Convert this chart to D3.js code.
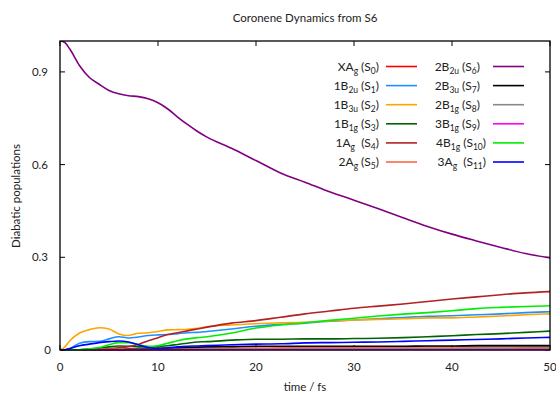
<!DOCTYPE html>
<html><head><meta charset="utf-8">
<script src="https://cdn.jsdelivr.net/npm/d3@7"></script>
<style>body{margin:0;background:#fff}svg{display:block}text{font-family:Lato,"Open Sans",sans-serif;fill:#222}</style>
</head><body><svg id="c" width="556" height="396"></svg>
<script>
const times = [0,0.5,1,2,3,4,5,6,7,8,9,10,11,12,13,14,15,17.5,20,22.5,25,27.5,30,32.5,35,37.5,40,42.5,45,47.5,50];
const S0  = [0,0,0.000,0.000,0.001,0.001,0.001,0.001,0.002,0.002,0.002,0.002,0.002,0.002,0.003,0.003,0.003,0.003,0.003,0.003,0.003,0.003,0.003,0.003,0.003,0.003,0.003,0.003,0.003,0.003,0.003];
const S1  = [0,0,0.004,0.022,0.027,0.028,0.036,0.043,0.039,0.042,0.047,0.049,0.050,0.053,0.056,0.057,0.060,0.068,0.077,0.083,0.087,0.093,0.097,0.101,0.105,0.109,0.111,0.114,0.117,0.121,0.124];
const S2  = [0,0.010,0.030,0.055,0.066,0.072,0.068,0.052,0.047,0.054,0.056,0.060,0.065,0.066,0.067,0.070,0.075,0.081,0.085,0.088,0.090,0.094,0.097,0.099,0.101,0.104,0.104,0.107,0.110,0.114,0.117];
const S3  = [0,0,0.000,0.001,0.003,0.006,0.010,0.013,0.012,0.010,0.010,0.011,0.014,0.018,0.022,0.026,0.027,0.032,0.035,0.035,0.036,0.036,0.037,0.038,0.040,0.043,0.046,0.050,0.053,0.057,0.061];
const S4  = [0,0,0.000,0.000,0.001,0.002,0.004,0.007,0.011,0.018,0.030,0.040,0.050,0.056,0.062,0.068,0.074,0.087,0.095,0.106,0.117,0.126,0.135,0.142,0.149,0.157,0.165,0.172,0.179,0.185,0.189];
const S5  = [0,0,0.000,0.000,0.001,0.001,0.002,0.002,0.003,0.003,0.004,0.004,0.004,0.005,0.005,0.005,0.005,0.006,0.006,0.007,0.007,0.008,0.008,0.009,0.009,0.010,0.010,0.010,0.011,0.011,0.011];
const S6  = [1.000,0.995,0.974,0.920,0.882,0.860,0.840,0.829,0.823,0.820,0.813,0.800,0.780,0.754,0.730,0.708,0.689,0.653,0.613,0.573,0.543,0.512,0.485,0.457,0.428,0.400,0.375,0.353,0.332,0.312,0.298];
const S7  = [0,0,0.000,0.000,0.000,0.000,0.000,0.001,0.002,0.003,0.004,0.005,0.006,0.007,0.008,0.009,0.010,0.011,0.012,0.012,0.012,0.012,0.012,0.012,0.012,0.013,0.013,0.014,0.014,0.014,0.014];
const S8  = [0,0,0.000,0.000,0.000,0.001,0.001,0.001,0.001,0.002,0.002,0.002,0.002,0.002,0.002,0.003,0.003,0.003,0.003,0.003,0.004,0.004,0.004,0.004,0.005,0.005,0.005,0.006,0.006,0.007,0.007];
const S9  = [0,0,0.000,0.000,0.000,0.000,0.000,0.000,0.000,0.000,0.001,0.001,0.001,0.001,0.001,0.001,0.001,0.001,0.001,0.001,0.001,0.001,0.001,0.001,0.001,0.001,0.001,0.001,0.001,0.001,0.001];
const S10 = [0,0,0.000,0.001,0.004,0.008,0.017,0.024,0.024,0.017,0.012,0.014,0.022,0.030,0.036,0.040,0.043,0.055,0.071,0.081,0.088,0.096,0.103,0.110,0.116,0.121,0.127,0.134,0.138,0.141,0.143];
const S11 = [0,0.001,0.005,0.014,0.019,0.024,0.027,0.029,0.026,0.017,0.008,0.005,0.007,0.010,0.012,0.013,0.014,0.017,0.019,0.020,0.023,0.024,0.025,0.026,0.028,0.030,0.032,0.034,0.036,0.039,0.041];
const seriesValues = [S0,S1,S2,S3,S4,S5,S6,S7,S8,S9,S10,S11];
const stateNames = [["XA","g","0"],["1B","2u","1"],["1B","3u","2"],["1B","1g","3"],["1A","g","4"],["2A","g","5"],
                    ["2B","2u","6"],["2B","3u","7"],["2B","1g","8"],["3B","1g","9"],["4B","1g","10"],["3A","g","11"]];
const colors = ["#ff0000","#1e90ff","#ffa500","#006400","#b22222","#ff6347","#800080","#000000","#888888","#ff00ff","#00ee00","#0000ff"];
const xTicks = [0,10,20,30,40,50];
const yTicks = [0,0.3,0.6,0.9];
const titleText = "Coronene Dynamics from S6";
const xLabel = "time / fs", yLabel = "Diabatic populations";

const svg = d3.select("#c");
const L=60,R=550,T=41,B=350;
const x = d3.scaleLinear().domain([0,50]).range([L,R]);
const y = d3.scaleLinear().domain([0,1]).range([B,T]);

const g = svg.append("g");
xTicks.forEach(v=>{
  g.append("line").attr("x1",x(v)).attr("x2",x(v)).attr("y1",B).attr("y2",B-5).attr("stroke","#000");
  g.append("line").attr("x1",x(v)).attr("x2",x(v)).attr("y1",T).attr("y2",T+5).attr("stroke","#000");
  g.append("text").attr("x",x(v)).attr("y",371).attr("text-anchor","middle").attr("font-size",11.5).text(v);
});
yTicks.forEach(v=>{
  g.append("line").attr("x1",L).attr("x2",L+5).attr("y1",y(v)).attr("y2",y(v)).attr("stroke","#000");
  g.append("line").attr("x1",R).attr("x2",R-5).attr("y1",y(v)).attr("y2",y(v)).attr("stroke","#000");
  g.append("text").attr("x",v===0?51:48).attr("y",y(v)+4).attr("text-anchor","end").attr("font-size",11.5).text(v===0?"0":d3.format(".1f")(v));
});

const line = d3.line().x((d,i)=>x(times[i])).y(d=>y(d)).curve(d3.curveMonotoneX);
svg.append("defs").append("clipPath").attr("id","clip").append("rect").attr("x",L).attr("y",T).attr("width",R-L).attr("height",B-T+1);
const lg = svg.append("g").attr("clip-path","url(#clip)");
seriesValues.forEach((s,i)=>{
  lg.append("path").attr("d",line(s)).attr("fill","none").attr("stroke",colors[i]).attr("stroke-width",1.6);
});

svg.append("rect").attr("x",L).attr("y",T).attr("width",R-L).attr("height",B-T).attr("fill","none").attr("stroke","#000").attr("stroke-width",1.3);

stateNames.forEach((n,i)=>{
  const col = Math.floor(i/6), row = i%6;
  const ty = 66.5 + row*19.1;
  const tx = col===0 ? 379 : (n[2].length>1 ? 486 : 480);
  const lx = col===0 ? 386 : 493;
  const t = svg.append("text").attr("x",tx).attr("y",ty+4).attr("text-anchor","end").attr("font-size",12);
  t.append("tspan").text(n[0]);
  t.append("tspan").attr("font-size",8.5).attr("dy",3).text(n[1]);
  t.append("tspan").attr("dy",-3).text(n[1]==="g" && (i===4||i===11) ? "\u00a0\u00a0(S" : "\u00a0(S");
  t.append("tspan").attr("font-size",8.5).attr("dy",3).text(n[2]);
  t.append("tspan").attr("dy",-3).text(")");
  svg.append("line").attr("x1",lx).attr("x2",lx+31).attr("y1",ty).attr("y2",ty).attr("stroke",colors[i]).attr("stroke-width",1.6);
});

svg.append("text").attr("x",305).attr("y",22).attr("text-anchor","middle").attr("font-size",11.5).text(titleText);
svg.append("text").attr("x",305).attr("y",391).attr("text-anchor","middle").attr("font-size",11.5).text(xLabel);
svg.append("text").attr("transform","translate(20,196) rotate(-90)").attr("text-anchor","middle").attr("font-size",11.5).text(yLabel);
</script></body></html>
